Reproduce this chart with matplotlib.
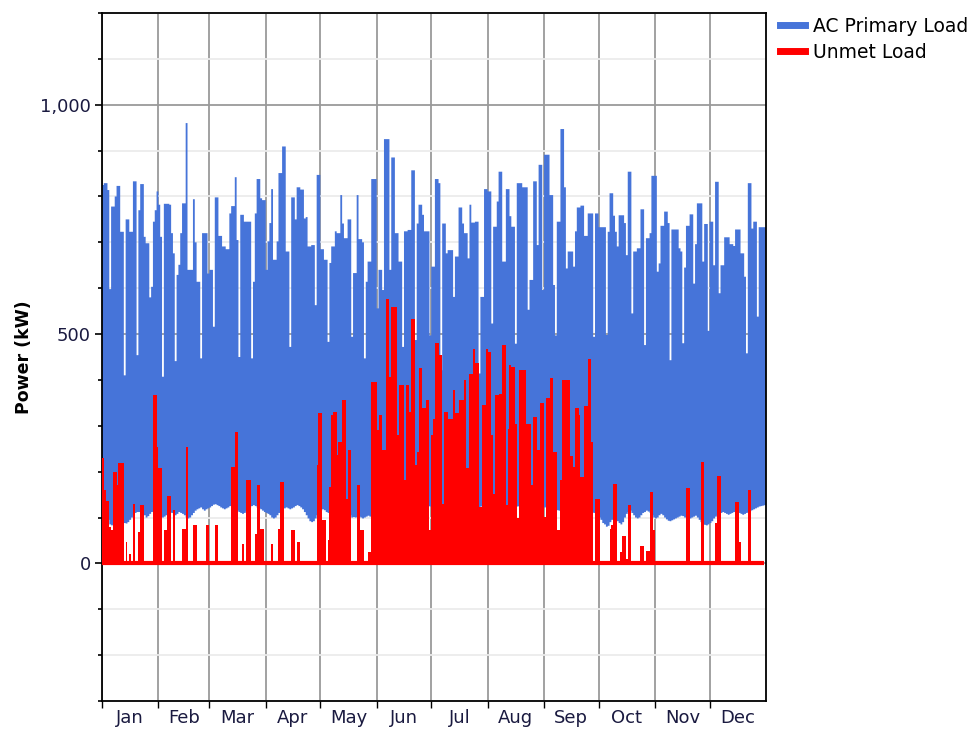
import numpy as np
import matplotlib.pyplot as plt
from matplotlib.lines import Line2D
from matplotlib.ticker import MultipleLocator, FuncFormatter

# daily peak of the AC primary load (kW), one list per month
peak_jan = [825, 829, 829, 814, 598, 778, 778, 800, 823, 823, 723, 723, 410, 750, 750, 723, 723, 833, 833, 454,
            770, 827, 827, 712, 698, 698, 580, 603, 745, 770, 811]
peak_feb = [782, 712, 407, 784, 784, 784, 782, 720, 676, 441, 629, 651, 720, 785, 785, 960, 640, 640, 640, 794,
            700, 614, 614, 447, 720, 720, 720, 632]
peak_mar = [640, 640, 516, 798, 798, 714, 714, 691, 691, 685, 685, 763, 779, 779, 842, 705, 450, 760, 760, 745,
            745, 745, 745, 447, 614, 763, 838, 838, 796, 792, 792]
peak_apr = [640, 702, 742, 816, 662, 662, 702, 851, 851, 909, 909, 680, 680, 472, 798, 798, 750, 820, 820, 815,
            815, 752, 755, 691, 691, 694, 694, 563, 847, 847]
peak_may = [685, 685, 662, 662, 483, 655, 691, 691, 724, 720, 720, 803, 741, 709, 709, 750, 750, 494, 633, 633,
            803, 707, 707, 700, 447, 614, 658, 658, 838, 838, 838]
peak_jun = [556, 640, 640, 596, 925, 925, 925, 640, 885, 885, 720, 720, 658, 658, 472, 724, 724, 727, 727, 857,
            857, 487, 741, 782, 782, 760, 724, 724, 724, 497]
peak_jul = [647, 647, 838, 838, 829, 421, 741, 741, 676, 683, 683, 683, 581, 669, 669, 776, 776, 741, 720, 720,
            665, 782, 743, 743, 745, 745, 414, 581, 581, 816, 816]
peak_aug = [811, 811, 523, 734, 734, 789, 854, 854, 658, 658, 816, 816, 757, 734, 734, 479, 829, 829, 829, 820,
            820, 820, 553, 618, 618, 833, 833, 694, 869, 869, 596]
peak_sep = [891, 891, 891, 803, 803, 607, 497, 745, 745, 947, 947, 820, 643, 680, 680, 680, 647, 724, 776, 776,
            780, 780, 714, 714, 763, 763, 763, 494, 763, 763]
peak_oct = [733, 733, 733, 733, 498, 723, 807, 807, 758, 723, 691, 759, 759, 759, 742, 672, 854, 854, 545, 680,
            680, 687, 687, 772, 772, 476, 709, 709, 720, 845, 845]
peak_nov = [845, 636, 654, 736, 736, 767, 767, 742, 443, 728, 728, 728, 728, 687, 680, 480, 645, 736, 736, 761,
            761, 610, 696, 785, 785, 785, 658, 740, 740, 507]
peak_dec = [745, 745, 650, 832, 832, 589, 650, 650, 711, 711, 711, 696, 696, 692, 728, 728, 728, 676, 676, 625,
            458, 829, 829, 730, 745, 745, 538, 733, 733, 733, 733]

# daily minimum of the AC primary load (kW)
low_jan = [110, 105, 100, 95, 85, 83, 85, 95, 100, 105, 100, 95, 88, 87, 90, 95, 100, 105, 110, 112,
           112, 110, 108, 105, 100, 103, 108, 112, 115, 112, 110]
low_feb = [108, 105, 100, 102, 105, 110, 112, 110, 108, 105, 108, 112, 110, 108, 105, 100, 98, 100, 105, 110,
           115, 118, 120, 122, 118, 115, 118, 120]
low_mar = [122, 125, 128, 129, 127, 125, 122, 120, 118, 120, 122, 125, 123, 120, 118, 115, 112, 110, 108, 110,
           113, 118, 122, 125, 127, 125, 122, 120, 118, 115, 112]
low_apr = [110, 108, 105, 100, 98, 100, 105, 110, 115, 118, 120, 122, 120, 118, 120, 122, 125, 127, 125, 122,
           118, 112, 105, 98, 92, 90, 92, 98, 105, 110]
low_may = [115, 118, 116, 112, 110, 108, 105, 103, 100, 98, 95, 100, 105, 110, 112, 110, 105, 100, 101, 100,
           101, 102, 100, 98, 100, 102, 104, 102, 100, 105, 110]
low_jun = [115, 118, 120, 122, 125, 123, 120, 122, 124, 126, 125, 123, 122, 120, 122, 124, 126, 125, 123, 121,
           120, 122, 124, 123, 122, 120, 121, 123, 125, 124]
low_jul = [123, 122, 120, 122, 124, 125, 123, 121, 122, 124, 126, 125, 123, 122, 120, 121, 123, 124, 122, 120,
           122, 124, 125, 123, 121, 120, 122, 124, 126, 125, 123]
low_aug = [122, 120, 121, 123, 125, 124, 122, 121, 123, 125, 126, 124, 122, 121, 120, 122, 124, 125, 123, 122,
           121, 123, 124, 122, 120, 121, 123, 125, 124, 122, 120]
low_sep = [122, 124, 125, 123, 121, 120, 118, 116, 115, 114, 113, 115, 117, 118, 116, 114, 112, 110, 108, 110,
           112, 115, 118, 120, 118, 115, 112, 110, 108, 105]
low_oct = [100, 95, 88, 85, 80, 82, 90, 95, 100, 98, 92, 88, 85, 90, 100, 108, 112, 115, 110, 105,
           100, 98, 100, 105, 110, 112, 115, 113, 110, 105, 100]
low_nov = [98, 100, 105, 108, 105, 100, 96, 93, 92, 94, 96, 98, 100, 102, 104, 103, 100, 98, 96, 98,
           100, 102, 104, 100, 95, 90, 86, 84, 83, 85]
low_dec = [88, 92, 98, 102, 105, 108, 110, 112, 110, 108, 106, 108, 110, 112, 114, 112, 110, 108, 106, 108,
           110, 112, 114, 116, 118, 120, 122, 124, 125, 126, 127]

# daily peak of the unmet load (kW)
unmet_jan = [229, 159, 137, 137, 79, 72, 199, 199, 170, 218, 218, 218, 0, 47, 0, 21, 0, 130, 0, 0,
             68, 127, 127, 0, 0, 0, 0, 0, 367, 367, 254]
unmet_feb = [207, 207, 0, 72, 72, 148, 148, 0, 116, 0, 0, 0, 0, 76, 76, 254, 0, 0, 0, 83,
             83, 0, 0, 0, 0, 0, 83, 83]
unmet_mar = [0, 0, 0, 83, 83, 0, 0, 0, 0, 0, 0, 0, 210, 210, 287, 287, 0, 0, 43, 0,
             181, 181, 181, 0, 0, 65, 170, 170, 76, 76, 0]
unmet_apr = [0, 0, 0, 43, 0, 0, 0, 76, 178, 178, 0, 0, 0, 0, 72, 72, 0, 47, 47, 0,
             0, 0, 0, 0, 0, 0, 0, 0, 214, 327]
unmet_may = [327, 94, 94, 0, 50, 167, 323, 330, 330, 236, 265, 265, 356, 356, 141, 247, 247, 0, 0, 0,
             170, 170, 72, 72, 0, 0, 25, 25, 396, 396, 396]
unmet_jun = [290, 323, 323, 247, 247, 576, 576, 407, 560, 560, 560, 280, 389, 389, 389, 181, 389, 389, 330, 532,
             532, 214, 243, 427, 427, 338, 338, 357, 357, 72]
unmet_jul = [280, 314, 480, 480, 454, 454, 130, 330, 330, 314, 314, 314, 378, 328, 328, 357, 357, 357, 400, 207,
             207, 414, 414, 467, 436, 436, 123, 123, 345, 345, 467]
unmet_aug = [461, 461, 280, 152, 367, 367, 370, 370, 476, 476, 127, 294, 432, 429, 429, 305, 98, 421, 421, 421,
             421, 305, 305, 305, 170, 319, 319, 247, 247, 349, 349]
unmet_sep = [101, 360, 360, 405, 405, 243, 243, 72, 72, 181, 400, 400, 400, 400, 234, 234, 210, 338, 338, 323,
             189, 189, 343, 343, 445, 445, 265, 0, 140, 140]
unmet_oct = [140, 0, 0, 0, 0, 0, 76, 83, 174, 174, 0, 0, 25, 59, 59, 10, 127, 127, 0, 0,
             0, 0, 0, 38, 38, 0, 28, 28, 156, 156, 72]
unmet_nov = [0, 0, 0, 0, 0, 0, 0, 0, 0, 0, 0, 0, 0, 0, 0, 0, 0, 165, 165, 0,
             0, 0, 0, 0, 0, 221, 221, 0, 0, 0]
unmet_dec = [0, 0, 0, 87, 191, 191, 0, 0, 0, 0, 0, 0, 0, 0, 134, 134, 47, 0, 0, 0,
             0, 159, 159, 0, 0, 0, 0, 0, 0, 0, 0]

months = ['Jan', 'Feb', 'Mar', 'Apr', 'May', 'Jun', 'Jul', 'Aug', 'Sep', 'Oct', 'Nov', 'Dec']
month_days = [31, 28, 31, 30, 31, 30, 31, 31, 30, 31, 30, 31]

peak = np.concatenate([peak_jan, peak_feb, peak_mar, peak_apr, peak_may, peak_jun,
                       peak_jul, peak_aug, peak_sep, peak_oct, peak_nov, peak_dec])
low = np.concatenate([low_jan, low_feb, low_mar, low_apr, low_may, low_jun,
                      low_jul, low_aug, low_sep, low_oct, low_nov, low_dec])
unmet = np.concatenate([unmet_jan, unmet_feb, unmet_mar, unmet_apr, unmet_may, unmet_jun,
                        unmet_jul, unmet_aug, unmet_sep, unmet_oct, unmet_nov, unmet_dec])

blue = '#4674d9'
red = '#ff0000'

fig = plt.figure(figsize=(9.76, 7.29), dpi=100)
ax = fig.add_axes([102 / 976, 1 - 701 / 729, 664 / 976, 688 / 729])

edges = np.arange(len(peak) + 1)
ax.stairs(peak, edges, baseline=low, fill=True, color=blue, lw=0, zorder=2)
ax.stairs(unmet, edges, baseline=0, fill=True, color=red, lw=0, zorder=3)
# the unmet series sits on a thick red line at zero
ax.hlines(0, edges[0], edges[-2], color=red, lw=3, zorder=3)

ax.set_xlim(0, 365)
ax.set_ylim(-300, 1200)

# month boundaries as ticks / grid, names centred in the month
starts = np.concatenate([[0], np.cumsum(month_days)[:-1]])
mids = starts + np.array(month_days) / 2
ax.set_xticks(starts)
ax.set_xticklabels([])
ax.set_xticks(mids, minor=True)
ax.set_xticklabels(months, minor=True)
ax.tick_params(axis='x', which='major', length=5, width=1, color='black', direction='out')
ax.tick_params(axis='x', which='minor', length=0, labelsize=13, labelcolor='#1a1a40', pad=6)
ax.xaxis.grid(True, which='major', color='#9a9a9a', lw=1.3)

ax.yaxis.set_major_locator(MultipleLocator(500))
ax.yaxis.set_minor_locator(MultipleLocator(100))
ax.yaxis.set_major_formatter(FuncFormatter(lambda v, p: f'{int(v):,}'))
ax.tick_params(axis='y', which='major', length=5, width=1.2, labelsize=13, labelcolor='#1a1a40', pad=3)
ax.tick_params(axis='y', which='minor', length=3, width=1.2)
ax.yaxis.grid(True, which='major', color='#9a9a9a', lw=1.3)
ax.yaxis.grid(True, which='minor', color='#ececec', lw=1.3)
ax.set_axisbelow(True)

for s in ax.spines.values():
    s.set_color('black')
    s.set_linewidth(1.3)

ax.set_ylabel('Power (kW)', fontsize=12.5, fontweight='bold', labelpad=5)

handles = [Line2D([], [], color=blue, lw=5), Line2D([], [], color=red, lw=5)]
fig.legend(handles, ['AC Primary Load', 'Unmet Load'], loc='upper left',
           bbox_to_anchor=(772 / 976, 1 - 9 / 729), frameon=False, fontsize=13.5,
           handlelength=1.35, handletextpad=0.45, labelspacing=0.4, borderaxespad=0)

fig.savefig('out.png', dpi=100)
